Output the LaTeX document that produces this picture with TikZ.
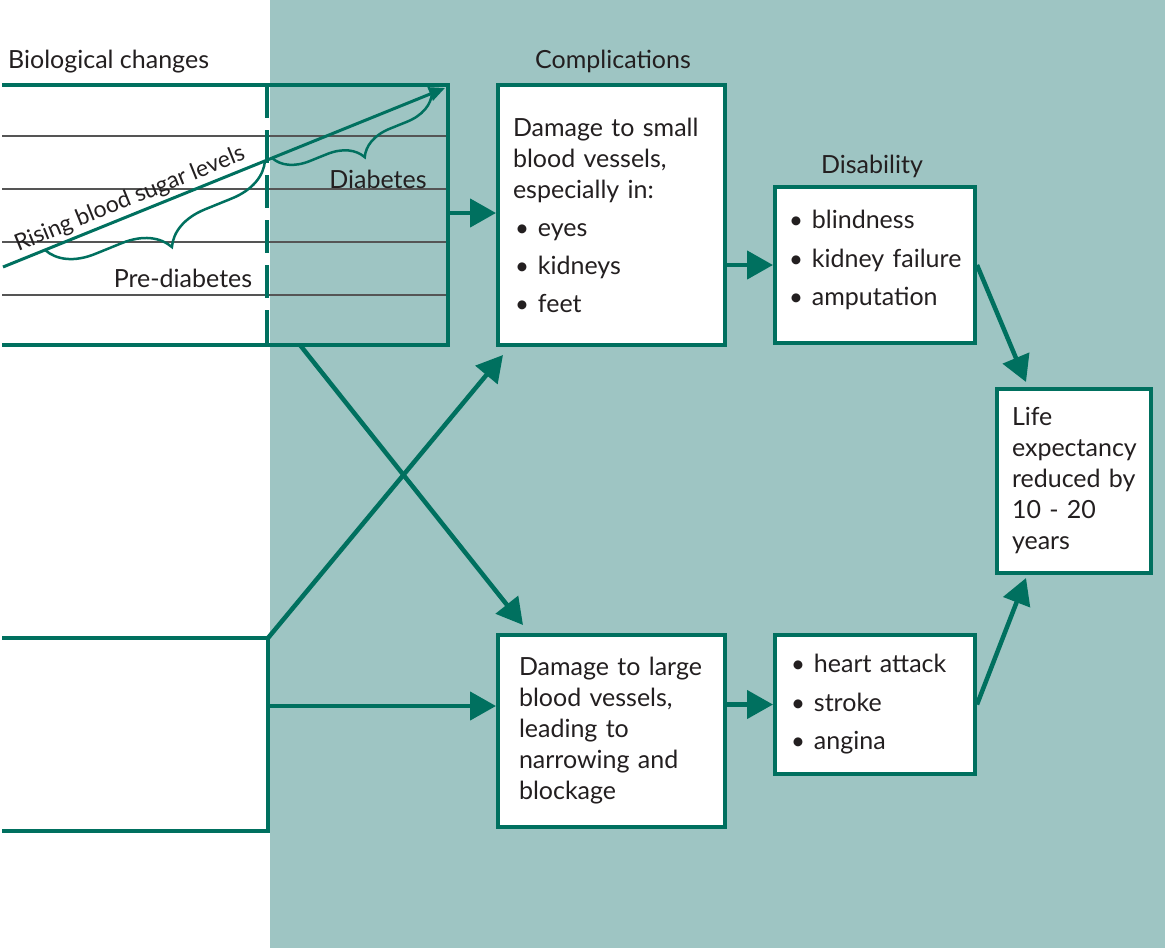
\documentclass[tikz,border=0pt]{standalone}
\usepackage{fontspec}
\setmainfont{Lato}
\usetikzlibrary{arrows.meta,decorations.pathreplacing,calc}
\definecolor{dteal}{HTML}{00705F}
\definecolor{lteal}{HTML}{9EC5C3}
\definecolor{txt}{HTML}{231F20}
\definecolor{gline}{HTML}{555555}
\newcommand{\bul}{\hspace{2pt}{\fontsize{24}{24}\selectfont\raisebox{0pt}{•}}\hspace{9pt}}
\begin{document}
\begin{tikzpicture}[x=1pt,y=-1pt,
  box/.style={draw=dteal, line width=4pt, fill=white, rectangle, align=left,
    inner xsep=15pt, inner ysep=0pt, text=txt, font=\fontsize{25}{31}\selectfont},
  head/.style={text=txt, font=\fontsize{25}{28}\selectfont, inner sep=0pt},
  lbl/.style={text=txt, font=\fontsize{25}{28}\selectfont, inner sep=0pt},
  frame/.style={draw=dteal, line width=4.5pt, line join=miter},
  gridline/.style={draw=gline, line width=1.2pt},
  dashline/.style={draw=dteal, line width=4.5pt, dash pattern=on 33pt off 12pt},
  rise/.style={draw=dteal, line width=3pt, -{Triangle[length=16pt,width=14pt]}},
  bracestyle/.style={draw=dteal, line width=2.5pt, decorate},
  conn/.style={draw=dteal, line width=4.5pt, -{Triangle[length=26pt,width=28pt]}}
]
\useasboundingbox (0,0) rectangle (1165,948);
\fill[white] (0,0) rectangle (1165,948);
\fill[lteal] (270,0) rectangle (1165,948);

% top-left frame
\coordinate (tl) at (2,85);
\coordinate (tr) at (448,85);
\coordinate (br) at (448,345);
\coordinate (bl) at (2,345);
\foreach \yy in {136,189,242,295} \draw[gridline] (2,\yy) -- (446,\yy);
\draw[frame] (tl) -- (tr) -- (br) -- (bl);
\coordinate (dtop) at (267,85);
\coordinate (dbot) at (267,345);
\draw[dashline] (dtop) -- (dbot);

\node[head, anchor=west] (hbio) at (8,62) {Biological changes};

% rising arrow
\coordinate (rs) at (3,267);
\coordinate (re) at (445,88);
\draw[rise] (rs) -- node[pos=0.3, sloped, above=3pt, lbl, font=\fontsize{23}{26}\selectfont] (risetxt) {Rising blood sugar levels} (re);

% braces
\coordinate (pb1) at (45,250);
\coordinate (pb2) at (265,160.7);
\draw[bracestyle, decoration={brace, mirror, amplitude=45pt}] (pb1) -- (pb2);
\coordinate (db1) at (272,158);
\coordinate (db2) at (432,93.3);
\draw[bracestyle, decoration={brace, mirror, amplitude=34pt}] (db1) -- (db2);
\node[lbl] (pre) at (183,278) {Pre-diabetes};
\node[lbl] (dia) at (378,179) {Diabetes};

% boxes
\node[head] (hcomp) at (613,61) {Complications};
\node[head] (hdis) at (872,166) {Disability};

\node[box, minimum width=227pt, minimum height=260pt, text width=197pt] (small) at (611.5,215)
  {Damage to small\\blood vessels,\\especially in:\\[7pt]\bul eyes\\[7pt]\bul kidneys\\[7pt]\bul feet};
\node[box, minimum width=200pt, minimum height=156pt, text width=176pt, inner xsep=12pt] (dis) at (875,265)
  {\bul blindness\\[7.5pt]\bul kidney failure\\[7.5pt]\bul amputation\rule[-14pt]{0pt}{1pt}};
\node[box, minimum width=154pt, minimum height=184pt, text width=128pt, inner xsep=13pt] (life) at (1074,481)
  {\hspace{2pt}Life\\\hspace{2pt}expectancy\\\hspace{2pt}reduced by\\\hspace{2pt}10 - 20\\\hspace{2pt}years};
\node[box, minimum width=227pt, minimum height=192pt, text width=185pt, inner xsep=21pt] (large) at (611.5,731)
  {Damage to large\\blood vessels,\\leading to\\narrowing and\\blockage};
\node[box, minimum width=200pt, minimum height=139pt, text width=176pt, inner xsep=12pt] (heart) at (875,704.5)
  {\hspace{2pt}\bul heart attack\\[7.5pt]\hspace{2pt}\bul stroke\\[7.5pt]\hspace{2pt}\bul angina};

% connectors
\coordinate (a1s) at (448,213);
\draw[conn] (a1s) -- (a1s -| small.west);
\draw[conn] (small.east |- dis.west) -- (dis.west);
\coordinate (t3) at (1026,382);
\draw[conn] (dis.east) -- (t3);
\coordinate (t4) at (1026,578);
\draw[conn] (heart.east) -- (t4);
\draw[conn] (large.east |- heart.west) -- (heart.west);

% bottom-left frame
\coordinate (bl1) at (2,638);
\coordinate (bj) at (268,638);
\coordinate (bj2) at (268,831);
\coordinate (bl2) at (2,831);
\draw[frame] (bl1) -- (bj) -- (bj2) -- (bl2);
\coordinate (mid) at (268,706);
\draw[conn] (mid) -- (mid -| large.west);
\coordinate (up) at (503,355);
\draw[conn] (bj) -- (up);
\coordinate (ds) at (300,345);
\coordinate (dt) at (523,625);
\draw[conn] (ds) -- (dt);
\end{tikzpicture}
\end{document}
